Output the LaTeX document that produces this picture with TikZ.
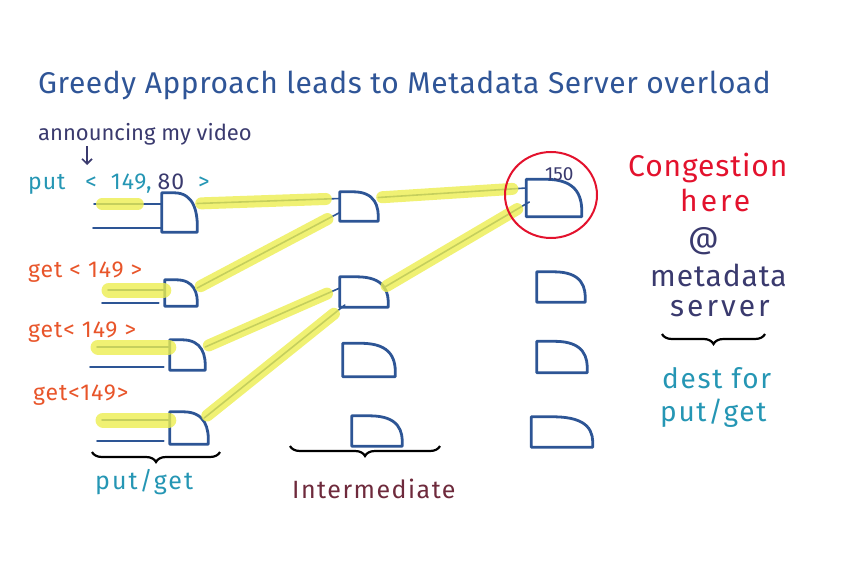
\documentclass[tikz,border=0pt]{standalone}
\usepackage{fontspec}
\setmainfont{Fira Sans}
\usetikzlibrary{calc,shapes.geometric,decorations.pathreplacing,arrows.meta}
\definecolor{titleblue}{HTML}{2F5597}
\definecolor{navy}{HTML}{3A3A6E}
\definecolor{teal}{HTML}{2596B4}
\definecolor{orng}{HTML}{E8552A}
\definecolor{congred}{HTML}{E3122D}
\definecolor{maroon}{HTML}{6E2A3C}
\definecolor{gateblue}{HTML}{2D5595}
\definecolor{hl}{HTML}{ECEE50}
\newcommand{\fsz}[2]{\fontsize{#1}{#1}\selectfont\addfontfeature{LetterSpace=#2}}
\tikzset{
  gate/.style={inner sep=0pt, draw=none},
  dline/.style={draw=gateblue, line width=2.8pt, line join=round, line cap=round},
  wire/.style={draw=gateblue, line width=1.6pt, line cap=round},
  hlband/.style={draw=hl, opacity=.8, line width=12pt},
  link/.style={wire, postaction={hlband, shorten >=14pt, shorten <=4pt}},
  bracestyle/.style={draw=black, line width=2.2pt, decorate,
     decoration={brace, mirror, amplitude=10pt}},
  txt/.style={inner sep=0pt, anchor=base west},
}
\begin{document}
\begin{tikzpicture}[x=1pt,y=-1pt]
\useasboundingbox (0,0) rectangle (852,578);
% title
\node[txt, font=\fsz{30}{2}, text=titleblue] (title) at (38,93) {Greedy Approach leads to Metadata Server overload};
\node[txt, font=\fsz{22}{0}, text=navy] (ann) at (38,140) {announcing my video};
\coordinate (a1) at (87,146);
\coordinate (a2) at (87,165);
\draw[navy, line width=1.6pt, -{Straight Barb[length=5pt]}] (a1) -- (a2);
\node[txt, font=\fsz{23}{4}, text=teal] (put1) at (28,189) {put\hspace{20pt}<\hspace{14pt}149,\hspace{6pt}\textcolor{navy}{80}\hspace{14pt}>};
\node[txt, font=\fsz{23}{4}, text=orng] (get1) at (28,277) {get < 149 >};
\node[txt, font=\fsz{23}{4}, text=orng] (get2) at (28,337) {get< 149 >};
\node[txt, font=\fsz{23}{4}, text=orng] (get3) at (33,400) {get<149>};
% gates
\node[gate, minimum width=35pt, minimum height=39pt] (s1) at (179.5,212.5) {};
\node[gate, minimum width=32pt, minimum height=26pt] (s2) at (181,293) {};
\node[gate, minimum width=35pt, minimum height=30pt] (s3) at (187.5,355) {};
\node[gate, minimum width=38pt, minimum height=32pt] (s4) at (189,428) {};
\node[gate, minimum width=38pt, minimum height=29pt] (m1) at (359,206.5) {};
\node[gate, minimum width=48pt, minimum height=30pt] (m2) at (364,292) {};
\node[gate, minimum width=52pt, minimum height=33pt] (m3) at (369,360) {};
\node[gate, minimum width=50pt, minimum height=30pt] (m4) at (377,431) {};
\node[gate, minimum width=55pt, minimum height=37pt] (r1) at (554,198) {};
\node[gate, minimum width=48pt, minimum height=30pt] (r2) at (561,287) {};
\node[gate, minimum width=50pt, minimum height=31pt] (r3) at (562,357) {};
\node[gate, minimum width=61pt, minimum height=30pt] (r4) at (562,432) {};
\foreach \n in {s1,s2,s3,s4,m1,m2,m3,m4,r1,r2,r3,r4}{
  \draw[dline] (\n.north west) -- ($(\n.north west)!0.35!(\n.north east)$)
    .. controls ($(\n.north east)+(-3,0)$) and ($(\n.east)+(1,0)$) .. (\n.south east)
    -- (\n.south west) -- cycle;
}
% inputs
\coordinate (i1a) at (94,204); \coordinate (i1b) at (93,228);
\coordinate (i2a) at (108,290); \coordinate (i2b) at (102,303);
\coordinate (i3a) at (97,347); \coordinate (i3b) at (90,367);
\coordinate (i4a) at (102,420); \coordinate (i4b) at (97,441);
\draw[wire, postaction={hlband, shorten <=8pt, shorten >=24pt}] (i1a) -- (i1a -| s1.west);
\draw[wire] (i1b) -- (i1b -| s1.west);
\foreach \k/\g in {2/s2,3/s3,4/s4}{
  \draw[wire, postaction={hlband, line width=15pt, shorten <=1pt, shorten >=1pt}] (i\k a) -- (i\k a -| \g.west);
  \draw[wire, shorten >=6pt] (i\k b) -- (i\k b -| \g.west);
}
% links
\draw[link] ([yshift=9pt]s1.east) -- ([yshift=8pt]m1.west);
\draw[link] ([yshift=5pt]s2.east) -- ([yshift=-6pt]m1.west);
\draw[link] ([yshift=9pt]m1.east) -- ([yshift=10pt]r1.west);
\draw[link] ([yshift=8pt]s3.east) -- ([yshift=4pt]m2.west);
\draw[link] ([yshift=10pt,xshift=-4pt]s4.east) -- ([yshift=-13pt,xshift=5pt]m2.west);
\draw[link] ([yshift=4pt,xshift=-5pt]m2.east) -- ([yshift=-4pt,xshift=3pt]r1.west);
% congestion circle
\node[draw=congred, line width=2pt, ellipse, minimum width=92pt, minimum height=86pt] (cong) at (551,195) {};
\node[txt, font=\fsz{19}{0}, text=navy] (n150) at (545,180) {150};
% braces
\coordinate (b1a) at (92,452); \coordinate (b1b) at (220,452);
\draw[bracestyle] (b1a) -- (b1b);
\node[txt, font=\fsz{25}{8}, text=teal] (pg1) at (95,489) {put/get};
\coordinate (b2a) at (290,446); \coordinate (b2b) at (440,446);
\draw[bracestyle] (b2a) -- (b2b);
\node[txt, font=\fsz{25}{6}, text=maroon] (inter) at (292,498) {Intermediate};
\coordinate (b3a) at (662,334); \coordinate (b3b) at (765,334);
\draw[bracestyle] (b3a) -- (b3b);
% right side text
\node[txt, font=\fsz{30}{3}, text=congred] (cg) at (628,176) {Congestion};
\node[txt, font=\fsz{30}{10}, text=congred] (here) at (680,211) {here};
\node[txt, font=\fsz{30}{0}, text=navy] (at) at (688,248) {@};
\node[txt, font=\fsz{30}{3}, text=navy] (meta) at (650,286) {metadata};
\node[txt, font=\fsz{30}{10}, text=navy] (serv) at (670,316) {server};
\node[txt, font=\fsz{28}{6}, text=teal] (dest) at (662,388) {dest for};
\node[txt, font=\fsz{28}{6}, text=teal] (pg2) at (660,421) {put/get};
\end{tikzpicture}
\end{document}
